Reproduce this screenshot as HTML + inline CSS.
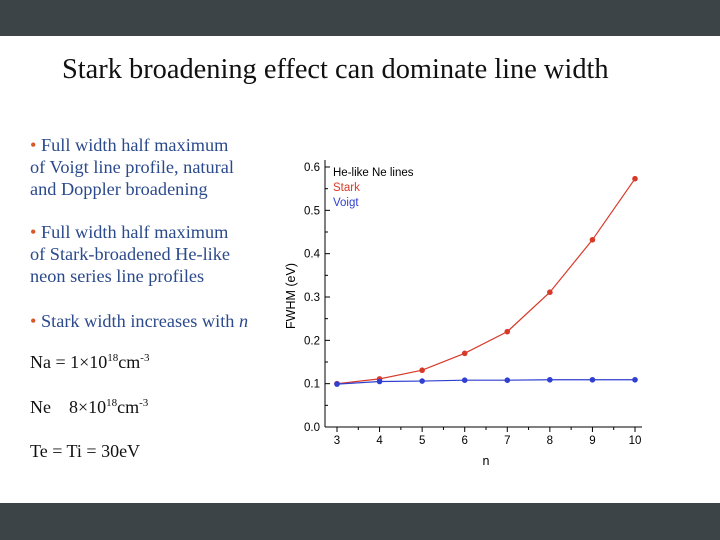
<!DOCTYPE html>
<html><head><meta charset="utf-8">
<style>
body{margin:0;width:720px;height:540px;overflow:hidden;background:#fff;position:relative;font-family:"Liberation Serif",serif}
.bar{position:absolute;left:0;width:720px;background:#3c4447}
.t{position:absolute;white-space:nowrap}
.b{color:#2b4a8c;font-size:18.3px;line-height:22px}
.dot{color:#d8582a}
.p{font-size:18px;color:#111}
</style></head><body>
<div class="bar" style="top:0;height:36px"></div>
<div class="bar" style="top:503px;height:37px"></div>
<div class="t" style="left:62px;top:54px;font-size:28.4px;color:#111">Stark broadening effect can dominate line width</div>
<div class="t b" style="left:30px;top:134px"><span class="dot">•</span> Full width half maximum<br>of Voigt line profile, natural<br>and Doppler broadening</div>
<div class="t b" style="left:30px;top:221px"><span class="dot">•</span> Full width half maximum<br>of Stark-broadened He-like<br>neon series line profiles</div>
<div class="t b" style="left:30px;top:310px"><span class="dot">•</span> Stark width increases with <i>n</i></div>
<div class="t p" style="left:30px;top:352px">Na = 1×10<sup style="font-size:11px">18</sup>cm<sup style="font-size:11px">-3</sup></div>
<div class="t p" style="left:30px;top:397px">Ne &nbsp;&nbsp; 8×10<sup style="font-size:11px">18</sup>cm<sup style="font-size:11px">-3</sup></div>
<div class="t p" style="left:30px;top:441px">Te = Ti = 30eV</div>
<svg id="chart" width="720" height="540" style="position:absolute;left:0;top:0"></svg>
<script>
const nValues=[3,4,5,6,7,8,9,10];
const starkValues=[0.100,0.111,0.131,0.170,0.220,0.311,0.432,0.573];
const voigtValues=[0.099,0.105,0.106,0.108,0.108,0.109,0.109,0.109];
const yTicks=[0.0,0.1,0.2,0.3,0.4,0.5,0.6];
const svg=document.getElementById('chart');
const NS='http://www.w3.org/2000/svg';
const X=n=>337+(n-3)*(635-337)/7;
const Y=v=>427-v*(427-167)/0.6;
function mk(t,a,p){const e=document.createElementNS(NS,t);for(const k in a)e.setAttribute(k,a[k]);(p||svg).appendChild(e);return e;}
const F='font-family:"Liberation Sans",sans-serif;font-size:11.5px';
let e=mk('line',{x1:325,y1:427,x2:642,y2:427,stroke:'#000','stroke-width':1});


e=mk('line',{x1:325,y1:160,x2:325,y2:427,stroke:'#000','stroke-width':1});


yTicks.forEach(v=>{
  mk('line',{x1:325,y1:Y(v),x2:330,y2:Y(v),stroke:'#000'});
  if(v<0.6) mk('line',{x1:325,y1:Y(v+0.05),x2:328,y2:Y(v+0.05),stroke:'#000'});
  const t=mk('text',{x:320,y:Y(v)+4,'text-anchor':'end',style:F});
  t.textContent=v.toFixed(1);
  
  
});
nValues.forEach(n=>{
  mk('line',{x1:X(n),y1:427,x2:X(n),y2:432,stroke:'#000'});
  if(n<10) mk('line',{x1:X(n+0.5),y1:427,x2:X(n+0.5),y2:430,stroke:'#000'});
  const t=mk('text',{x:X(n),y:444,'text-anchor':'middle',style:F});
  t.textContent=n;
  
  
});
let t=mk('text',{x:486,y:465,'text-anchor':'middle',style:F+';font-size:12.5px'});t.textContent='n';


t=mk('text',{x:0,y:0,'text-anchor':'middle',transform:'translate(295,296) rotate(-90)',style:F+';font-size:12.5px'});t.textContent='FWHM (eV)';


function series(vals,color,name){
  const pl=mk('polyline',{points:vals.map((v,i)=>X(nValues[i])+','+Y(v)).join(' '),fill:'none',stroke:color,'stroke-width':1.2});
  
  
  vals.forEach((v,i)=>{
    const c=mk('circle',{cx:X(nValues[i]),cy:Y(v),r:2.8,fill:color});
    
    
  });
}
series(starkValues,'#d83a2a','stark');
series(voigtValues,'#2f3fd0','voigt');
[['He-like Ne lines','#000',176],['Stark','#d83a2a',191],['Voigt','#2f3fd0',206]].forEach(([s,c,y],i)=>{
  const l=mk('text',{x:333,y:y,fill:c,style:F});l.textContent=s;
  
  
});
</script>
</body></html>
